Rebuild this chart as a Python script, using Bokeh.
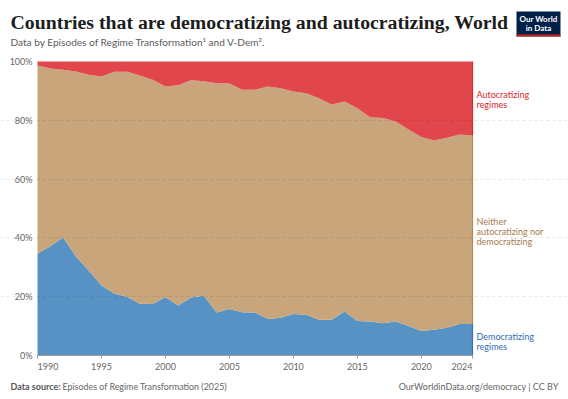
from bokeh.plotting import figure
from bokeh.models import (Range1d, FixedTicker, Label, ColumnDataSource, BoxAnnotation,
                          LinearAxis, Grid)
from bokeh.embed import file_html
from bokeh.resources import INLINE

years = list(range(1990, 2025))
democratizing = [34.6, 37.2, 40.1, 33.7, 28.9, 23.8, 21.1, 20.0, 17.6, 17.5,
                 19.8, 17.0, 19.7, 20.3, 14.6, 15.8, 14.7, 14.6, 12.4, 12.8,
                 14.1, 13.9, 12.2, 12.2, 15.0, 11.7, 11.6, 11.0, 11.6, 10.0,
                 8.3, 8.8, 9.4, 10.7, 10.7]
autocratizing = [1.4, 2.4, 2.8, 3.4, 4.5, 5.1, 3.5, 3.5, 4.8, 6.2,
                 8.5, 8.1, 6.4, 6.7, 7.4, 7.5, 9.6, 9.6, 8.5, 9.1,
                 10.2, 10.8, 12.5, 14.6, 13.6, 15.9, 19.0, 19.2, 20.4, 23.1,
                 25.7, 26.9, 25.9, 24.8, 25.2]
neither = [round(100 - d - a, 1) for d, a in zip(democratizing, autocratizing)]

series_names = ["Democratizing\nregimes", "Neither\nautocratizing nor\ndemocratizing", "Autocratizing\nregimes"]
y_ticks = [0, 20, 40, 60, 80, 100]
y_tick_labels = ["0%", "20%", "40%", "60%", "80%", "100%"]
x_ticks = [1990, 1995, 2000, 2005, 2010, 2015, 2020, 2024]

title = "Countries that are democratizing and autocratizing, World"
subtitle = "Data by Episodes of Regime Transformation\u00b9 and V-Dem\u00b2."

fill_colors = ["#5792C4", "#C8A57B", "#E0464B"]
edge_colors = ["#3A74AE", "#B08A5E", "#D12A30"]
label_colors = ["#2F6DB1", "#A67A4D", "#D7262E"]

W, H = 568, 399
# chart area on the page: x 37..472 (1990..2024), y 61..355 (100%..0%)
PX0, PX1, PY100, PY0 = 37, 472, 61, 355


def dx(px):
    return years[0] + (px - PX0) * (years[-1] - years[0]) / (PX1 - PX0)


def dy(py):
    return (PY0 - py) * 100 / (PY0 - PY100)


src = ColumnDataSource(dict(year=years, dem=democratizing, nei=neither, aut=autocratizing))

p = figure(width=W, height=H, output_backend="svg", toolbar_location=None,
           x_range=Range1d(dx(0), dx(W)), y_range=Range1d(dy(H), dy(0)),
           x_axis_location=None, y_axis_location=None, min_border=0)
p.outline_line_color = None
p.background_fill_color = "white"
p.border_fill_color = "white"
p.xgrid.visible = False
p.ygrid.visible = False

p.varea_stack(["dem", "nei", "aut"], x="year", source=src, color=fill_colors)

# right edge strokes
cum = [0, democratizing[-1], democratizing[-1] + neither[-1], 100]
for i in range(3):
    p.segment(x0=[years[-1]], y0=[cum[i]], x1=[years[-1]], y1=[cum[i + 1]],
              line_color=edge_colors[i], line_width=1.2)

# grid (dashed, over the areas)
grid = Grid(dimension=1, ticker=FixedTicker(ticks=[20, 40, 60, 80]), bounds=(years[0], years[-1]),
            grid_line_color="#000000", grid_line_alpha=0.09, grid_line_dash="3 3", level="overlay")
p.add_layout(grid)

# axes fixed at the chart area edges
xaxis = LinearAxis(fixed_location=0, ticker=FixedTicker(ticks=x_ticks), bounds=(years[0], years[-1]))
xaxis.major_label_overrides = {1990: "", 2024: ""}
xaxis.axis_line_color = "#9a9a9a"
xaxis.major_tick_line_color = "#9a9a9a"
xaxis.major_tick_in = 0
xaxis.major_tick_out = 3
xaxis.minor_tick_line_color = None
xaxis.major_label_standoff = 4
xaxis.major_label_text_font = "Lato"
xaxis.major_label_text_font_size = "9px"
xaxis.major_label_text_color = "#666666"
p.add_layout(xaxis, "below")

yaxis = LinearAxis(fixed_location=years[0], ticker=FixedTicker(ticks=y_ticks))
yaxis.major_label_overrides = {t: l for t, l in zip(y_ticks, y_tick_labels)}
yaxis.axis_line_color = None
yaxis.major_tick_line_color = None
yaxis.minor_tick_line_color = None
yaxis.major_tick_out = 0
yaxis.major_tick_in = 0
yaxis.major_label_standoff = 5
yaxis.major_label_text_font = "Lato"
yaxis.major_label_text_font_size = "9px"
yaxis.major_label_text_color = "#666666"
p.add_layout(yaxis, "left")

# end x labels aligned to edges
for yr, align in [(x_ticks[0], "left"), (x_ticks[-1], "right")]:
    p.add_layout(Label(x=yr, y=0, y_offset=-7, text=str(yr), text_align=align,
                       text_baseline="top", text_font="Lato", text_font_size="9px",
                       text_color="#666666"))

# title / subtitle
p.add_layout(Label(x=dx(10), y=dy(21), text=title, text_font="Liberation Serif",
                   text_font_style="bold", text_font_size="19.8px", text_color="#1d1d1d",
                   text_baseline="middle"))
p.add_layout(Label(x=dx(10), y=dy(41), text=subtitle, text_font="Lato",
                   text_font_size="10.1px", text_color="#5b5b5b", text_baseline="middle"))

# logo
p.add_layout(BoxAnnotation(left=dx(516), right=dx(560), top=dy(11), bottom=dy(36),
                           fill_color="#002147", fill_alpha=1, line_color=None))
p.add_layout(BoxAnnotation(left=dx(516), right=dx(560), top=dy(34), bottom=dy(36),
                           fill_color="#CE261E", fill_alpha=1, line_color=None))
p.add_layout(Label(x=dx(538), y=dy(18.5), text="Our World", text_align="center",
                   text_baseline="middle", text_font="Lato", text_font_style="bold",
                   text_font_size="8px", text_color="white"))
p.add_layout(Label(x=dx(538), y=dy(27), text="in Data", text_align="center",
                   text_baseline="middle", text_font="Lato", text_font_style="bold",
                   text_font_size="8px", text_color="white"))

# series labels on the right
label_rows = [[336, 345.5], [221, 231, 241], [94, 104]]
for name, rows, col in zip(series_names, label_rows, label_colors):
    for line, py in zip(name.split("\n"), rows):
        p.add_layout(Label(x=dx(476), y=dy(py), text=line, text_font="Lato",
                           text_font_size="9px", text_color=col, text_baseline="middle"))

# footer
p.add_layout(Label(x=dx(10), y=dy(386), text="Data source:", text_font="Lato",
                   text_font_style="bold", text_font_size="9px", text_color="#555555",
                   text_baseline="middle"))
p.add_layout(Label(x=dx(62), y=dy(386), text="Episodes of Regime Transformation (2025)",
                   text_font="Lato", text_font_size="8.9px", text_color="#666666",
                   text_baseline="middle"))
p.add_layout(Label(x=dx(558), y=dy(386), text="OurWorldinData.org/democracy | CC BY",
                   text_font="Lato", text_font_size="9px", text_color="#666666",
                   text_baseline="middle", text_align="right"))

open("out.html", "w").write(file_html(p, INLINE))
